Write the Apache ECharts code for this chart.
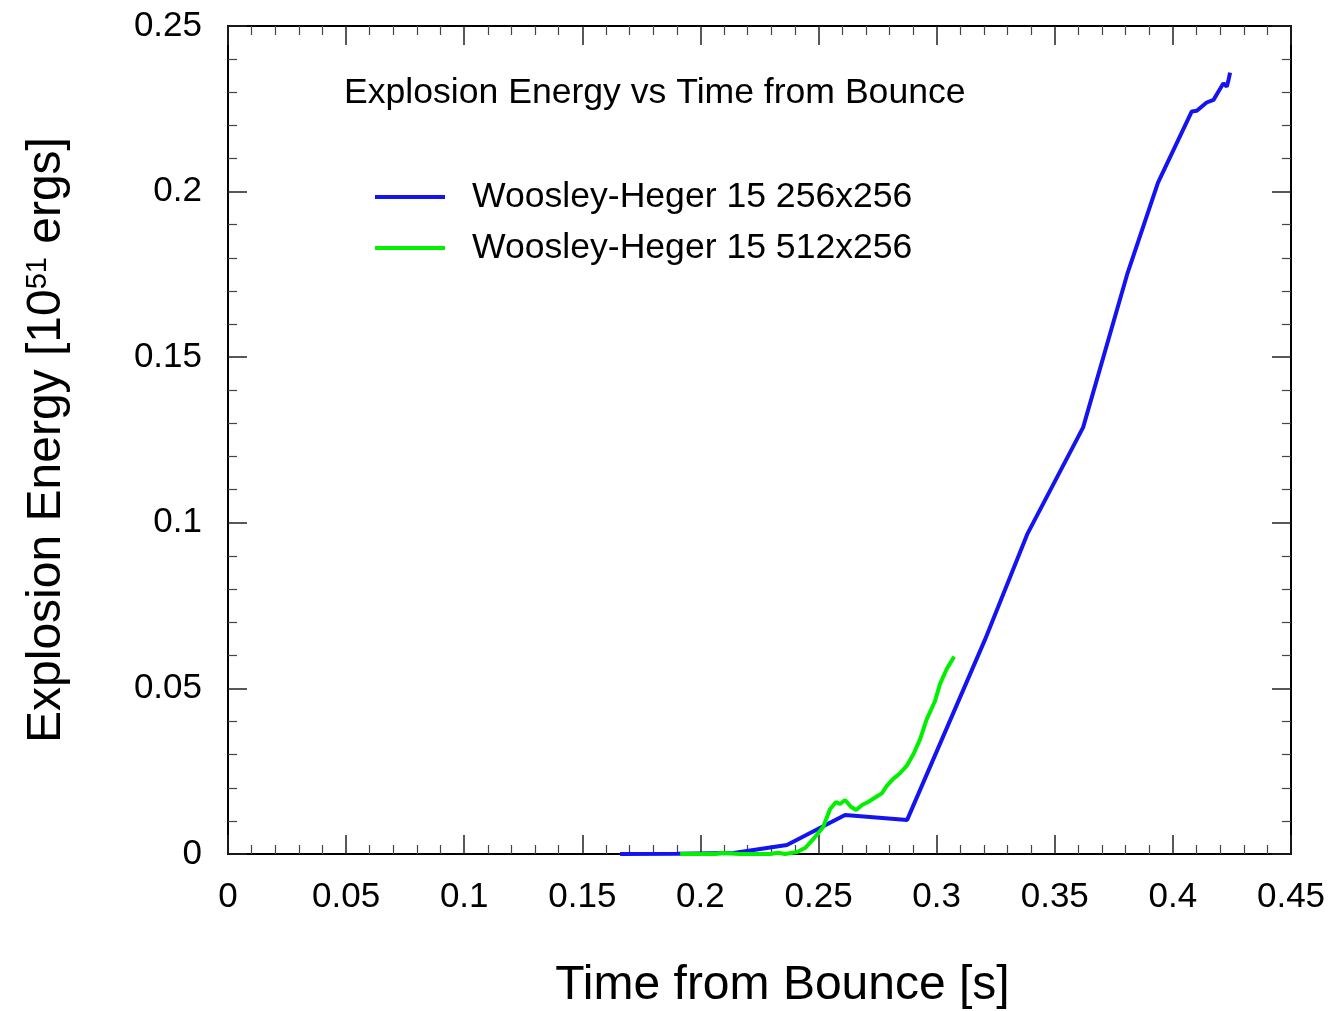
<!DOCTYPE html>
<html>
<head>
<meta charset="utf-8">
<script src="https://cdn.jsdelivr.net/npm/echarts@6/dist/echarts.min.js"></script>
<style>html,body{margin:0;padding:0;background:#fff;}#c{width:1332px;height:1011px;}</style>
</head>
<body>
<div id="c"></div>
<script>
const blueTime   = [0.166, 0.190, 0.214, 0.2366, 0.2612, 0.2875, 0.3205, 0.3383, 0.362, 0.3806, 0.3937, 0.408, 0.4101, 0.4143, 0.4172, 0.4193, 0.4214, 0.4228, 0.4235, 0.4242];
const blueEnergy = [0, 0.0001, 0.0003, 0.0027, 0.0118, 0.0103, 0.0648, 0.0965, 0.1288, 0.1749, 0.2027, 0.2242, 0.2244, 0.2269, 0.2277, 0.2302, 0.2327, 0.2317, 0.2335, 0.2359];
const greenTime   = [0.1914, 0.2062, 0.209, 0.2168, 0.2295, 0.2329, 0.2358, 0.2409, 0.2443, 0.2485, 0.2519, 0.2549, 0.2574, 0.2591, 0.2612, 0.2638, 0.2659, 0.2684, 0.2710, 0.2743, 0.2769, 0.2789, 0.2815, 0.2845, 0.2873, 0.2902, 0.2930, 0.2958, 0.2993, 0.3014, 0.3042, 0.3074];
const greenEnergy = [0, 0, 0.0003, 0, 0, 0.0004, 0, 0.0006, 0.0018, 0.0051, 0.0081, 0.0136, 0.0157, 0.0151, 0.0163, 0.0142, 0.0133, 0.0148, 0.0157, 0.0172, 0.0184, 0.0206, 0.0226, 0.0244, 0.0266, 0.0302, 0.0347, 0.0407, 0.0462, 0.0513, 0.0558, 0.0596];
const seriesNames = ['Woosley-Heger 15 256x256', 'Woosley-Heger 15 512x256'];
const titleText = 'Explosion Energy vs Time from Bounce';
const xName = 'Time from Bounce [s]';

const FONT = 'Liberation Sans, Arial, Helvetica, sans-serif';
const zip = (a, b) => a.map((v, i) => [v, b[i]]);

function axisCommon(showLabel) {
  return {
    axisLine: { show: true, onZero: false, lineStyle: { color: '#000', width: 2 } },
    axisTick: { show: true, inside: true, length: 19, lineStyle: { color: '#222', width: 1.5 } },
    minorTick: { show: true, splitNumber: 5, length: 9, lineStyle: { color: '#444', width: 1.2 } },
    splitLine: { show: false },
    axisLabel: { show: showLabel, color: '#000', fontSize: 35, fontFamily: FONT, margin: 26 }
  };
}

const chart = echarts.init(document.getElementById('c'), null, { renderer: 'canvas' });
chart.setOption({
  animation: false,
  backgroundColor: '#fff',
  title: {
    text: titleText, left: 344, top: 75, padding: 0,
    textStyle: { fontSize: 35.6, fontWeight: 'normal', color: '#000', fontFamily: FONT }
  },
  legend: {
    orient: 'vertical', left: 375, top: 177, padding: 0,
    itemWidth: 70, itemHeight: 4, itemGap: 11, icon: 'rect',
    textStyle: { fontSize: 35.6, color: '#000', fontFamily: FONT, lineHeight: 40, padding: [0, 0, 0, 22] },
    data: seriesNames
  },
  grid: { left: 228, right: 41, top: 26, bottom: 157, containLabel: false, outerBoundsMode: 'none' },
  xAxis: [
    Object.assign(axisCommon(true), {
      type: 'value', min: 0, max: 0.45, interval: 0.05, position: 'bottom',
      name: xName, nameLocation: 'middle', nameGap: 108,
      nameTextStyle: { fontSize: 48, color: '#000', fontFamily: FONT, padding: [0, 0, 0, 46] }
    }),
    Object.assign(axisCommon(false), {
      type: 'value', min: 0, max: 0.45, interval: 0.05, position: 'top'
    })
  ],
  yAxis: [
    Object.assign(axisCommon(true), {
      type: 'value', min: 0, max: 0.25, interval: 0.05, position: 'left',
      name: '{m|Explosion Energy [10}{s|51}{m| ergs]}', nameLocation: 'middle', nameGap: 157,
      nameTextStyle: {
        color: '#000', fontFamily: FONT,
        rich: {
          m: { fontSize: 48, fontFamily: FONT, color: '#000' },
          s: { fontSize: 29, fontFamily: FONT, color: '#000', verticalAlign: 'top', padding: [0, 0, 14, 0] }
        }
      }
    }),
    Object.assign(axisCommon(false), {
      type: 'value', min: 0, max: 0.25, interval: 0.05, position: 'right'
    })
  ],
  series: [
    {
      name: seriesNames[0], type: 'line', data: zip(blueTime, blueEnergy),
      showSymbol: false, symbol: 'none', color: '#1414f0',
      lineStyle: { color: '#1414f0', width: 4 }
    },
    {
      name: seriesNames[1], type: 'line', data: zip(greenTime, greenEnergy),
      showSymbol: false, symbol: 'none', color: '#00f000',
      lineStyle: { color: '#00f000', width: 4 }
    }
  ]
});
</script>
</body>
</html>
